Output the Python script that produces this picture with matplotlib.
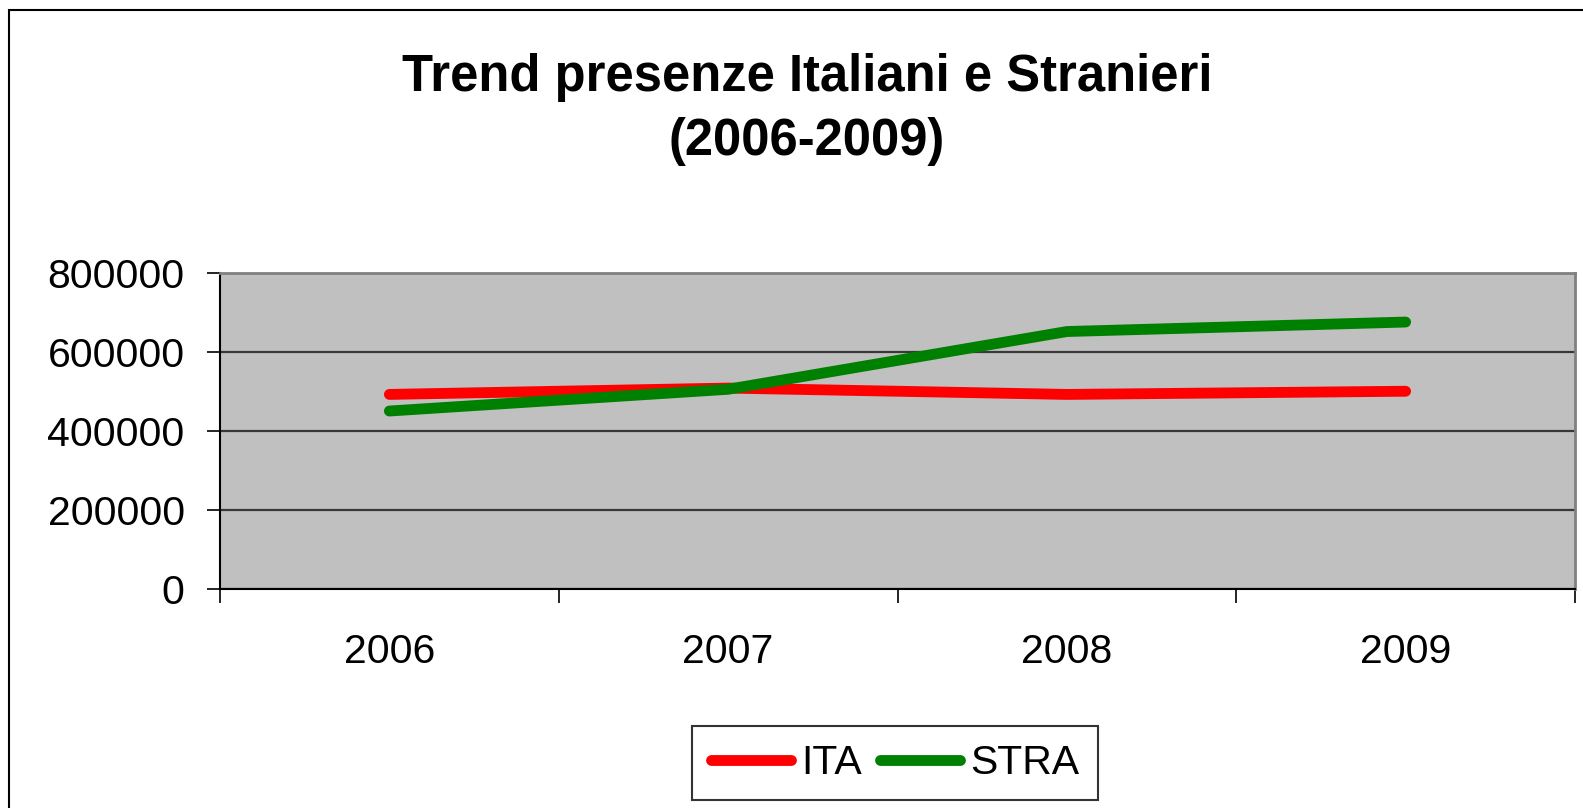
import matplotlib
matplotlib.use('Agg')
import matplotlib.pyplot as plt
from matplotlib.patches import Rectangle

years = ['2006', '2007', '2008', '2009']
ita = [492000, 508000, 492000, 500000]
stra = [450000, 505000, 651000, 675000]
yticks = [0, 200000, 400000, 600000, 800000]

plt.rcParams['font.family'] = ['Liberation Sans', 'DejaVu Sans']

W, H = 1583, 808
fig = plt.figure(figsize=(W / 100, H / 100), dpi=100)
fig.patch.set_facecolor('white')

# outer chart frame
fig.add_artist(Rectangle((9 / W, -0.1), 2, 1 - 10 / H + 0.1, transform=fig.transFigure,
                         fill=False, lw=1.5, ec='black'))

left, right, top, bottom = 220, 1575, 272.6, 589
ax = fig.add_axes([left / W, 1 - bottom / H, (right - left) / W, (bottom - top) / H])
ax.set_facecolor('#C0C0C0')

x = list(range(len(years)))
ax.plot(x, ita, color='#FF0000', lw=7.8, solid_capstyle='round', solid_joinstyle='round', label='ITA', zorder=3)
ax.plot(x, stra, color='#008000', lw=7.8, solid_capstyle='round', solid_joinstyle='round', label='STRA', zorder=3)

ax.set_xlim(-0.5, len(years) - 0.5)
ax.set_ylim(0, 800000)
ax.set_yticks(yticks)
ax.set_yticklabels([str(v) for v in yticks])
ax.yaxis.grid(True, color='#383838', lw=1.6)
ax.set_axisbelow(True)

ax.set_xticks([i - 0.5 for i in range(len(years) + 1)])
ax.set_xticklabels([])
ax.set_xticks(x, minor=True)
ax.set_xticklabels(years, minor=True)
ax.tick_params(axis='x', which='major', length=10, width=1.2, color='black', direction='out')
ax.tick_params(axis='x', which='minor', length=0, pad=32, labelsize=29.5)
ax.tick_params(axis='y', length=9.4, width=1.2, pad=16, labelsize=29.5)

for s in ['top', 'right']:
    ax.spines[s].set_color('#808080')
    ax.spines[s].set_linewidth(2)
for s in ['left', 'bottom']:
    ax.spines[s].set_color('black')
    ax.spines[s].set_linewidth(1.5)

fig.text(807 / W, 1 - 52.5 / H, 'Trend presenze Italiani e Stranieri\n(2006-2009)',
         ha='center', va='top', fontsize=36.5, fontweight='bold', linespacing=1.42)

leg = fig.legend(loc='center', bbox_to_anchor=((698 + 1092) / 2 / W, 1 - (727 + 799) / 2 / H),
                 ncol=2, frameon=True, fancybox=False, edgecolor='black', fontsize=29.5,
                 handlelength=1.95, handletextpad=0.25, columnspacing=0.45, borderpad=0.45,
                 borderaxespad=0)
leg.get_frame().set_linewidth(1.5)

fig.savefig('out.png', dpi=100)
